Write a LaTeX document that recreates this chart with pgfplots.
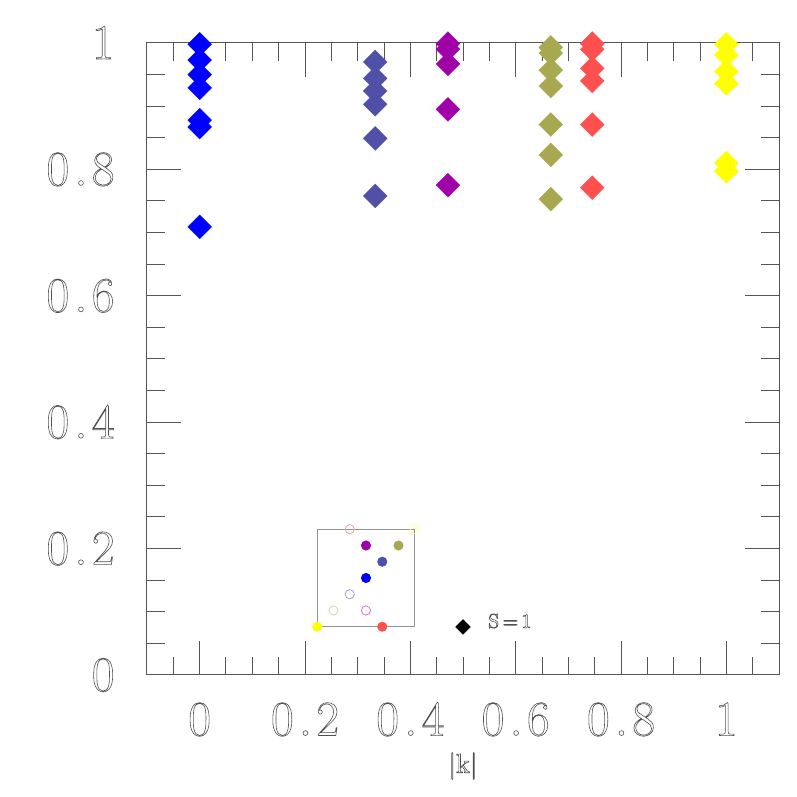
\documentclass[border=0pt]{standalone}
\usepackage{pgfplots}
\pgfplotsset{compat=1.18}
\newcommand\outl{\special{pdf:literal direct 1 Tr 0.3 w}}
\definecolor{cblue}{RGB}{0,0,255}
\definecolor{cslate}{RGB}{80,80,168}
\definecolor{cpurple}{RGB}{160,0,168}
\definecolor{colive}{RGB}{168,168,80}
\definecolor{cred}{RGB}{255,80,80}
\definecolor{cyellow}{RGB}{255,255,0}
\definecolor{lred}{RGB}{240,160,160}
\definecolor{lyellow}{RGB}{255,255,140}
\definecolor{lslate}{RGB}{160,160,215}
\definecolor{lolive}{RGB}{210,210,170}
\definecolor{lpurple}{RGB}{215,110,215}
\definecolor{axgray}{RGB}{85,85,85}
\definecolor{txtgray}{RGB}{80,80,80}
\begin{document}
\begin{tikzpicture}
\begin{axis}[
  scale only axis, width=316pt, height=316pt,
  xmin=-0.1, xmax=1.1, ymin=0, ymax=1,
  xtick={0,0.2,0.4,0.6,0.8,1}, ytick={0,0.2,0.4,0.6,0.8,1},
  minor xtick={-0.05,0.05,0.1,0.15,0.25,0.3,0.35,0.45,0.5,0.55,0.65,0.7,0.75,0.85,0.9,0.95,1.05},
  minor ytick={0.05,0.1,0.15,0.25,0.3,0.35,0.45,0.5,0.55,0.65,0.7,0.75,0.85,0.9,0.95},
  major tick length=17pt, minor tick length=9pt,
  tick align=inside,
  axis line style={axgray, line width=0.5pt},
  tick style={axgray, line width=0.5pt},
  minor tick style={axgray, line width=0.5pt},
  /pgf/number format/set decimal separator={\hspace{2.5pt}.\hspace{2pt}},
  ticklabel style={font=\fontsize{26}{30}\selectfont\outl, text=txtgray, inner sep=0pt},
  xticklabel style={yshift=-14pt},
  yticklabel style={xshift=-16pt},
  xlabel={|k|},
  xlabel style={at={(axis description cs:0.5,-0.144)}, anchor=center, font=\fontsize{13.5}{16}\selectfont\outl, text=txtgray, inner sep=0pt},
  clip=false,
]
\coordinate (bl) at (rel axis cs:0,0);
\coordinate (tr) at (rel axis cs:1,1);
% main data
\addplot[only marks, mark=square*, mark size=4.24pt, mark options={rotate=45, draw=cblue, fill=cblue, line width=0.1pt}] coordinates {
(0,0.998) (0,0.973) (0,0.950) (0,0.929) (0,0.878) (0,0.867) (0,0.709)};
\addplot[only marks, mark=square*, mark size=4.24pt, mark options={rotate=45, draw=cslate, fill=cslate, line width=0.1pt}] coordinates {
(0.3333,0.970) (0.3333,0.944) (0.3333,0.924) (0.3333,0.903) (0.3333,0.849) (0.3333,0.758)};
\addplot[only marks, mark=square*, mark size=4.24pt, mark options={rotate=45, draw=cpurple, fill=cpurple, line width=0.1pt}] coordinates {
(0.4714,0.999) (0.4714,0.990) (0.4714,0.967) (0.4714,0.895) (0.4714,0.775)};
\addplot[only marks, mark=square*, mark size=4.24pt, mark options={rotate=45, draw=colive, fill=colive, line width=0.1pt}] coordinates {
(0.6667,0.993) (0.6667,0.984) (0.6667,0.957) (0.6667,0.932) (0.6667,0.871) (0.6667,0.823) (0.6667,0.753)};
\addplot[only marks, mark=square*, mark size=4.24pt, mark options={rotate=45, draw=cred, fill=cred, line width=0.1pt}] coordinates {
(0.7454,0.999) (0.7454,0.990) (0.7454,0.960) (0.7454,0.940) (0.7454,0.871) (0.7454,0.771)};
\addplot[only marks, mark=square*, mark size=4.24pt, mark options={rotate=45, draw=cyellow, fill=cyellow, line width=0.1pt}] coordinates {
(1,0.998) (1,0.981) (1,0.955) (1,0.936) (1,0.810) (1,0.797)};
% inset box
\addplot[draw=gray!85, line width=0.5pt, mark=none] coordinates {
(0.2233,0.0764) (0.4084,0.0764) (0.4084,0.2307) (0.2233,0.2307) (0.2233,0.0764)};
% inset filled
\addplot[only marks, mark=*, mark size=2.3pt, mark options={draw=cyellow, fill=cyellow}] coordinates {(0.2233,0.0764)};
\addplot[only marks, mark=*, mark size=2.3pt, mark options={draw=cred, fill=cred}] coordinates {(0.3467,0.0764)};
\addplot[only marks, mark=*, mark size=2.3pt, mark options={draw=cblue, fill=cblue}] coordinates {(0.3158,0.1535)};
\addplot[only marks, mark=*, mark size=2.3pt, mark options={draw=cslate, fill=cslate}] coordinates {(0.3467,0.1792)};
\addplot[only marks, mark=*, mark size=2.3pt, mark options={draw=cpurple, fill=cpurple}] coordinates {(0.3158,0.2049)};
\addplot[only marks, mark=*, mark size=2.3pt, mark options={draw=colive, fill=colive}] coordinates {(0.3775,0.2049)};
% inset open
\addplot[only marks, mark=o, mark size=2.3pt, mark options={draw=lolive, line width=0.4pt}] coordinates {(0.2541,0.1021)};
\addplot[only marks, mark=o, mark size=2.3pt, mark options={draw=lpurple, line width=0.4pt}] coordinates {(0.3158,0.1021)};
\addplot[only marks, mark=o, mark size=2.3pt, mark options={draw=lslate, line width=0.4pt}] coordinates {(0.2850,0.1278)};
\addplot[only marks, mark=o, mark size=2.3pt, mark options={draw=lred, line width=0.4pt}] coordinates {(0.2850,0.2307)};
\addplot[only marks, mark=o, mark size=2.3pt, mark options={draw=lyellow, line width=0.4pt}] coordinates {(0.4084,0.2307)};
% S=1 key
\addplot[only marks, mark=square*, mark size=2.65pt, mark options={rotate=45, draw=black, fill=black, line width=0.1pt}] coordinates {(0.5,0.076)};
\node[anchor=west, font=\fontsize{10}{12}\selectfont\outl, text=txtgray, inner sep=0pt] at (axis cs:0.547,0.0854) {S\,=\,1};
\end{axis}
\pgfresetboundingbox
\path[use as bounding box] ([shift={(-73.5pt,-61pt)}]bl) rectangle ([shift={(9pt,21.5pt)}]tr);
\end{tikzpicture}
\end{document}
